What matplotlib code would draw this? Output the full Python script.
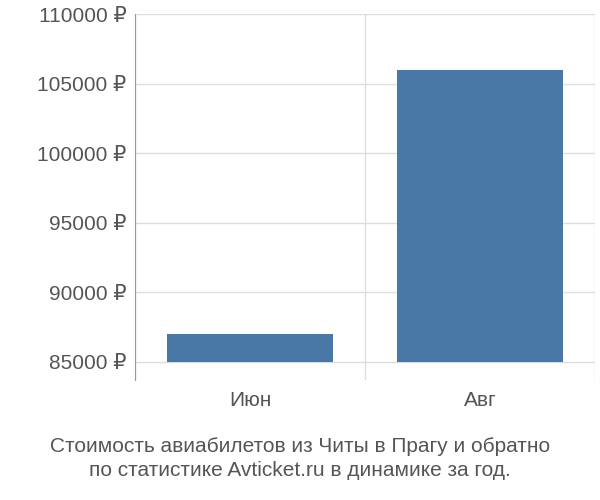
import matplotlib
matplotlib.use("Agg")
from matplotlib import pyplot as plt

months = ["Июн", "Авг"]
prices = [87000, 106000]
yticks = [85000, 90000, 95000, 100000, 105000, 110000]

plt.rcParams['font.family'] = ['Liberation Sans', 'DejaVu Sans']
fig = plt.figure(figsize=(6, 5), dpi=100)
ax = fig.add_axes([0.225, 0.24, 0.767, 0.732])

base = 85000
ax.bar(range(len(months)), [p - base for p in prices], bottom=base,
       width=0.72, color="#4a78a6", zorder=2)
ax.set_xlim(-0.5, len(months) - 0.5)
ax.set_ylim(83700, 110000)
ax.set_yticks(yticks)
ax.set_yticklabels([f"{v} ₽" for v in yticks], fontsize=15, color="#555555")
ax.set_xticks(range(len(months)))
ax.set_xticklabels(months, fontsize=15, color="#555555")
ax.tick_params(axis="x", length=0, pad=8)
ax.tick_params(axis="y", length=0, pad=6)
ax.set_xticks([-0.5, 0.5, 1.5], minor=True)
ax.tick_params(axis="x", which="minor", length=0)
ax.grid(True, axis="x", which="minor", color="#dddddd", lw=1, zorder=0)
ax.grid(True, axis="y", color="#dddddd", lw=1, zorder=0)
for s in ["top", "right", "bottom"]:
    ax.spines[s].set_visible(False)
ax.spines["left"].set_color("#999999")

fig.text(0.5, 0.04, "Стоимость авиабилетов из Читы в Прагу и обратно\nпо статистике Avticket.ru в динамике за год.",
         ha="center", va="bottom", fontsize=15, color="#555555", linespacing=1.3)
fig.savefig("out.png")
